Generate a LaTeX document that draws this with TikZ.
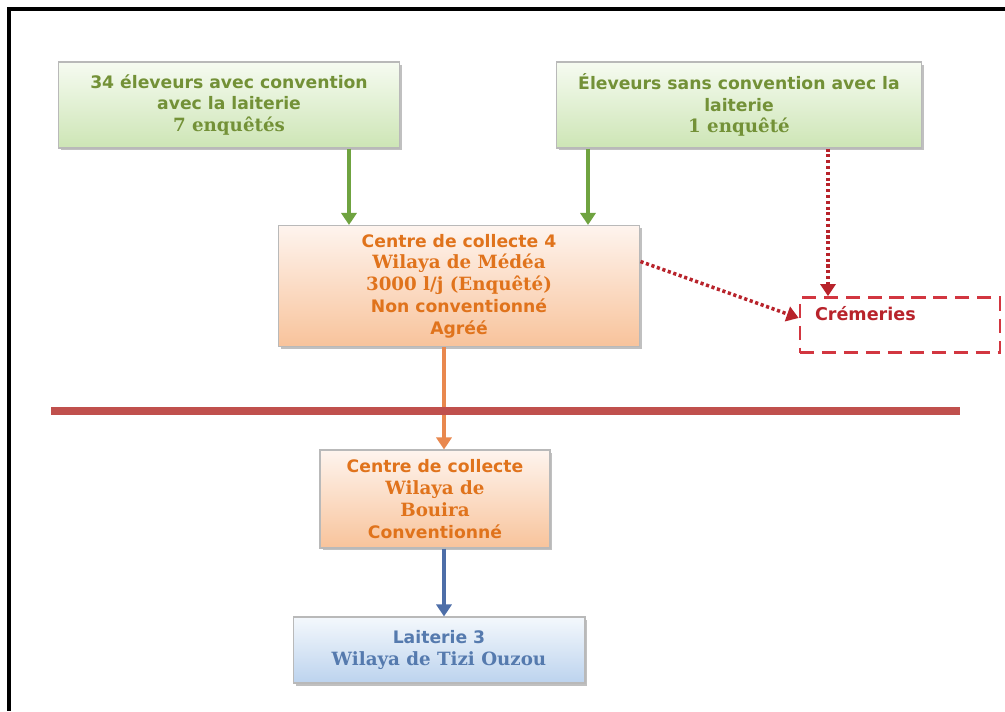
\documentclass[tikz,border=0pt]{standalone}
\usepackage{fontspec}
\setmainfont{DejaVu Sans}
\newfontfamily\serifline{DejaVu Serif}[Scale=1.06]
\usetikzlibrary{arrows.meta,shadows}

\definecolor{vertTxt}{HTML}{739137}
\definecolor{vertHaut}{HTML}{F6FBF1}
\definecolor{vertBas}{HTML}{CDE5B5}
\definecolor{vertFleche}{HTML}{6FA340}
\definecolor{orangeTxt}{HTML}{E0731C}
\definecolor{orangeHaut}{HTML}{FEF4EE}
\definecolor{orangeBas}{HTML}{F8C39B}
\definecolor{orangeFleche}{HTML}{E9884E}
\definecolor{bleuTxt}{HTML}{557AAE}
\definecolor{bleuHaut}{HTML}{F4F8FC}
\definecolor{bleuBas}{HTML}{BCD3EE}
\definecolor{bleuFleche}{HTML}{4D6EA8}
\definecolor{rougeTxt}{HTML}{B8232B}
\definecolor{rougeTiret}{HTML}{D23640}
\definecolor{rougeLigne}{HTML}{C0504D}

\tikzset{
	boite/.style={draw=gray!55, line width=0.6pt, inner sep=0pt, align=center,
		font=\fontsize{9.8}{12.4}\selectfont\bfseries,
		drop shadow={shadow xshift=0.05cm, shadow yshift=-0.05cm, opacity=0.35, fill=black!70}},
	boiteVerte/.style={boite, top color=vertHaut, bottom color=vertBas, text=vertTxt},
	boiteOrange/.style={boite, top color=orangeHaut, bottom color=orangeBas, text=orangeTxt},
	boiteBleue/.style={boite, top color=bleuHaut, bottom color=bleuBas, text=bleuTxt},
	boiteCreme/.style={draw=rougeTiret, line width=1.5pt, dash pattern=on 8pt off 4.5pt,
		fill=white, text=rougeTxt, font=\fontsize{10}{12}\selectfont\bfseries,
		inner xsep=0.3cm, text height=0.25cm, text depth=0.45cm, align=left},
	pointe/.style={-{Triangle[width=0.3cm, length=0.24cm]}},
	flecheVerte/.style={draw=vertFleche, line width=2.3pt, pointe},
	flecheOrange/.style={draw=orangeFleche, line width=2.3pt, pointe},
	flecheBleue/.style={draw=bleuFleche, line width=2.3pt, pointe},
	flecheRouge/.style={draw=rougeTxt, line width=2pt, dash pattern=on 1.8pt off 1.5pt, pointe},
	ligneRouge/.style={draw=rougeLigne, line width=0.16cm}
}

\begin{document}
\begin{tikzpicture}[x=0.02cm, y=-0.02cm]
	%%%%% START %%%%%
	\useasboundingbox (0,0) rectangle (1005,711);
	\fill[white] (0,0) rectangle (1005,711);
	
	% cadre
	\draw[line width=0.09cm] (1005,9) -- (9,9) -- (9,711);
	
	% eleveurs
	\node[boiteVerte, minimum width=6.84cm, minimum height=1.72cm] (eleveursAvec) at (229,105)
		{34 éleveurs avec convention\\avec la laiterie\\{\serifline 7 enquêtés}};
	\node[boiteVerte, minimum width=7.3cm, minimum height=1.72cm] (eleveursSans) at (739,105)
		{Éleveurs sans convention avec la\\laiterie\\{\serifline 1 enquêté}};
	
	% centres de collecte
	\node[boiteOrange, minimum width=7.24cm, minimum height=2.42cm] (centreMedea) at (459,286)
		{Centre de collecte 4\\{\serifline Wilaya de Médéa}\\{\serifline 3000 l/j (Enquêté)}\\Non conventionné\\Agréé};
	\node[boiteOrange, minimum width=4.6cm, minimum height=1.96cm] (centreBouira) at (435,499)
		{Centre de collecte\\{\serifline Wilaya de}\\{\serifline Bouira}\\Conventionné};
	
	\node[boiteBleue, minimum width=5.84cm, minimum height=1.32cm] (laiterie) at (439,650)
		{Laiterie 3\\{\serifline Wilaya de Tizi Ouzou}};
	
	\node[boiteCreme, minimum width=4cm, minimum height=1.1cm, text width=3.4cm] (cremeries) at (900,325)
		{Crémeries};
	
	% fleches
	\coordinate (xVert1) at (349,0);
	\coordinate (xVert2) at (588,0);
	\coordinate (xRouge) at (828,0);
	\coordinate (xMilieu) at (444,0);
	
	\draw[flecheVerte] (eleveursAvec.south -| xVert1) -- (centreMedea.north -| xVert1);
	\draw[flecheVerte] (eleveursSans.south -| xVert2) -- (centreMedea.north -| xVert2);
	\draw[flecheRouge] (eleveursSans.south -| xRouge) -- (cremeries.north -| xRouge);
	\draw[flecheRouge] ([yshift=0.49cm]centreMedea.east) -- ([yshift=0.14cm]cremeries.west);
	\draw[flecheOrange] (centreMedea.south -| xMilieu) -- (centreBouira.north -| xMilieu);
	\draw[flecheBleue] (centreBouira.south -| xMilieu) -- (laiterie.north -| xMilieu);
	
	\draw[ligneRouge] (51,411) -- (960,411);
	
	%%%%% END %%%%%
\end{tikzpicture}
\end{document}
